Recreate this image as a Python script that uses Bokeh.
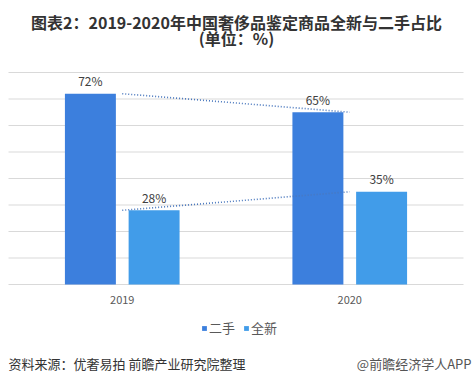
from bokeh.plotting import figure
from bokeh.models import ColumnDataSource, Range1d, Label, Legend, LegendItem
from bokeh.embed import file_html
from bokeh.resources import INLINE
from bokeh.core.properties import value

years = ["2019", "2020"]
used = [72, 65]      # 二手
new = [28, 35]       # 全新
used_labels = ["72%", "65%"]
new_labels = ["28%", "35%"]
series_names = ["二手", "全新"]
grid_ticks = [0, 10, 20, 30, 40, 50, 60, 70, 80]

title1 = "图表2：2019-2020年中国奢侈品鉴定商品全新与二手占比"
title2 = "(单位：%)"
source_text = "资料来源：优奢易拍 前瞻产业研究院整理"
brand_text = "@前瞻经济学人APP"

C_USED = "#3C7FDD"
C_NEW = "#419CE9"
FONT = "Noto Sans CJK SC"

W, H = 473, 384
# plot area in canvas pixels
PL, PR, PT, PB = 8, 463, 72, 284
n = len(years)
xpx = (PR - PL) / n
ymax = 80
ypx = (PB - PT) / ymax

centers = [i + 0.5 for i in range(n)]
OFF = 0.14
BW = 0.224

src = ColumnDataSource(dict(
    years=years, c=centers,
    xu=[c - OFF for c in centers], xn=[c + OFF for c in centers],
    used=used, new=new, used_labels=used_labels, new_labels=new_labels,
    zero=[0] * n))

p = figure(width=W, height=H, output_backend="svg", toolbar_location=None,
           x_range=Range1d(-PL / xpx, n + (W - PR) / xpx),
           y_range=Range1d(-(H - PB) / ypx, ymax + PT / ypx),
           min_border=0)
p.axis.visible = False
p.grid.visible = False
p.outline_line_color = None
p.background_fill_color = "white"
p.border_fill_color = "white"

# gridlines over the plot area only
gsrc = ColumnDataSource(dict(y=grid_ticks, x0=[0] * len(grid_ticks), x1=[n] * len(grid_ticks)))
p.segment(x0="x0", x1="x1", y0="y", y1="y", source=gsrc, line_color="#D9D9D9", line_width=1)

r1 = p.vbar(x="xu", top="used", width=BW, source=src, color=C_USED, line_color=None)
r2 = p.vbar(x="xn", top="new", width=BW, source=src, color=C_NEW, line_color=None)

p.line(x="c", y="used", source=src, line_color="#4A78BE", line_width=1.6, line_dash="1 2")
p.line(x="c", y="new", source=src, line_color="#4A78BE", line_width=1.6, line_dash="1 2")

p.text(x="xu", y="used", text="used_labels", source=src,
       text_font=value(FONT), text_font_size="12px", text_color="#404040",
       text_align="center", text_baseline="middle", y_offset=-13)
p.text(x="xn", y="new", text="new_labels", source=src,
       text_font=value(FONT), text_font_size="12px", text_color="#404040",
       text_align="center", text_baseline="middle", y_offset=-13)

# category labels
p.text(x="c", y="zero", text="years", source=src,
       text_font=value(FONT), text_font_size="11px", text_color="#595959",
       text_align="center", text_baseline="middle", y_offset=15)

legend = Legend(items=[LegendItem(label=series_names[0], renderers=[r1]),
                       LegendItem(label=series_names[1], renderers=[r2])],
                orientation="horizontal", location=(201, 47),
                glyph_width=6, glyph_height=6, label_standoff=2, spacing=8,
                padding=0, margin=0, label_text_font=FONT, label_text_font_size="13px",
                label_text_color="#595959", background_fill_alpha=0, border_line_color=None)
p.add_layout(legend, "center")

p.add_layout(Label(x=236, y=H - 21, x_units="screen", y_units="screen", text=title1,
                   text_font=FONT, text_font_size="16px", text_font_style="bold",
                   text_color="#333333", text_align="center", text_baseline="middle"))
p.add_layout(Label(x=236, y=H - 37.5, x_units="screen", y_units="screen", text=title2,
                   text_font=FONT, text_font_size="16px", text_font_style="bold",
                   text_color="#333333", text_align="center", text_baseline="middle"))
p.add_layout(Label(x=8, y=H - 363, x_units="screen", y_units="screen", text=source_text,
                   text_font=FONT, text_font_size="13px",
                   text_color="#333333", text_align="left", text_baseline="middle"))
p.add_layout(Label(x=471, y=H - 363, x_units="screen", y_units="screen", text=brand_text,
                   text_font=FONT, text_font_size="13px",
                   text_color="#555555", text_align="right", text_baseline="middle"))

open("out.html", "w").write(file_html(p, INLINE))
